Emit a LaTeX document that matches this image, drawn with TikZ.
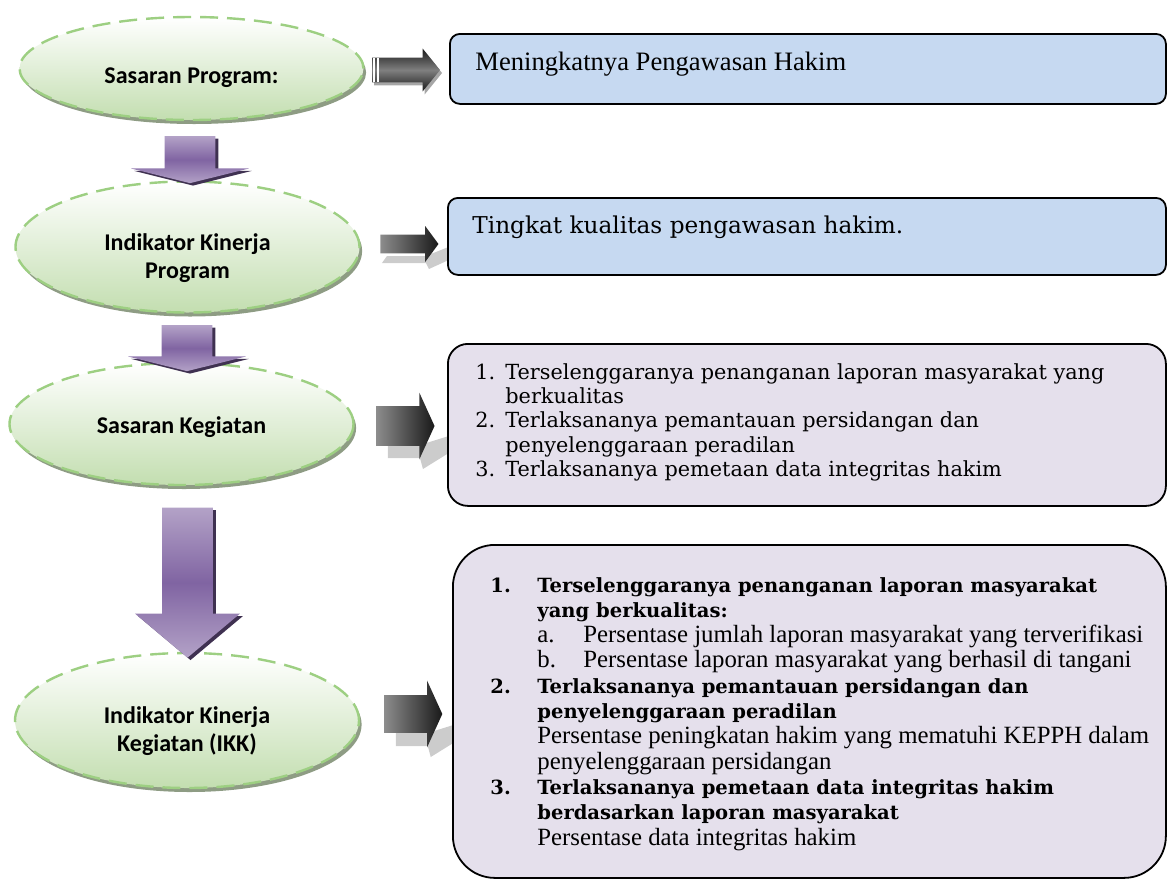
\documentclass[tikz,border=0pt]{standalone}
\usepackage{fontspec}
\usepackage{xcolor}
\usetikzlibrary{
    shapes.geometric,
    shapes.arrows,
    shadows,
    backgrounds,
    calc,
}
\newfontfamily\labelfont{Carlito}
\newfontfamily\bookmanfont{DejaVu Serif}
\newfontfamily\palatinofont{Liberation Serif}
\newcommand{\boldbk}[1]{{\bookmanfont\fontsize{9.78pt}{12.65pt}\selectfont\bfseries #1}}
\definecolor{goalgreen}{HTML}{C3DEB0}
\definecolor{goalborder}{HTML}{9DCF82}
\definecolor{goalshadow}{HTML}{8E9C84}
\definecolor{arrowlight}{HTML}{B3A2C7}
\definecolor{arrowdark}{HTML}{8064A2}
\definecolor{arrowshadow}{HTML}{3F3151}
\definecolor{boxblue}{HTML}{C6D9F1}
\definecolor{boxlilac}{HTML}{E5E0EC}
\tikzset{
    goalnode/.style={
            ellipse,
            draw=goalborder,
            line width=1.2pt,
            dash pattern=on 9pt off 4.5pt,
            top color=white,
            bottom color=goalgreen,
            drop shadow={
                    shadow xshift=1.3pt,
                    shadow yshift=-2pt,
                    fill=goalshadow,
                    opacity=1,
                },
            minimum width=172pt,
        }
}
\tikzset{
    goallabel/.style={
            inner sep=0pt,
            align=center,
            font=\labelfont\bfseries\fontsize{12pt}{14pt}\selectfont,
        }
}
\tikzset{
    downarrow/.style={
            single arrow,
            rotate=-90,
            draw=none,
            inner xsep=0pt,
            inner ysep=12.5pt,
            single arrow head extend=16.75pt,
            single arrow tip angle=152,
            top color=arrowlight,
            bottom color=arrowlight,
            middle color=arrowdark,
            drop shadow={
                    shadow xshift=1.5pt,
                    shadow yshift=-1.2pt,
                    fill=arrowshadow,
                    opacity=1,
                },
        }
}
\tikzset{
    rightarrow/.style={
            single arrow,
            draw=none,
            inner xsep=0pt,
            left color=black!45,
            right color=black!90,
        }
}
\tikzset{
    reflection/.style={
            fill=black!20,
        }
}
\tikzset{
    stripe/.style={
            draw=white,
            line width=0.8pt,
        }
}
\tikzset{
    textbox/.style={
            draw=black,
            line width=0.9pt,
            anchor=north west,
            inner sep=0pt,
        }
}
\tikzset{
    boxtext/.style={
            inner sep=0pt,
            anchor=base west,
        }
}

\begin{document}
\begin{tikzpicture}[x=0.5pt, y=-0.5pt]
    \useasboundingbox (0,0) rectangle (1167,879);

    % goals
    \node[goalnode, minimum height=51.5pt] (E1) at (191.5,68.5) {};
    \node[goalnode, minimum height=65.5pt] (E2) at (187.5,247) {};
    \node[goalnode, minimum height=61pt] (E3) at (181.5,424) {};
    \node[goalnode, minimum height=67.5pt] (E4) at (187,720.5) {};

    \node[goallabel, anchor=base] (E1-t) at ([yshift=-7.25pt]E1.center) {Sasaran Program:};
    \node[goallabel] (E2-t) at ([yshift=-5.5pt]E2.center) {Indikator Kinerja\\Program};
    \node[goallabel, anchor=base] (E3-t) at ([yshift=-4.5pt]E3.center) {Sasaran Kegiatan};
    \node[goallabel] (E4-t) at ([yshift=-5.25pt]E4.center) {Indikator Kinerja\\Kegiatan (IKK)};

    % goal -> goal
    \node[downarrow, minimum height=23.5pt] (A1) at (190,156.5) {};
    \node[downarrow, minimum height=23pt] (A2) at (187,345) {};
    \node[
        downarrow,
        minimum height=75pt,
        single arrow head extend=13.5pt,
        single arrow tip angle=100,
    ] (A3) at (187.5,572) {};

    % goal -> box
    \node[
        rightarrow,
        minimum height=34pt,
        inner ysep=6pt,
        single arrow head extend=4.5pt,
        single arrow tip angle=102,
        top color=black!90,
        bottom color=black!90,
        middle color=black!50,
        drop shadow={shadow xshift=1pt, shadow yshift=-1.5pt, fill=black!35, opacity=1},
    ] (R1) at (401,70) {};
    \foreach \s in {2.5,6.5} \draw[stripe] ([shift={(\s,-12)}]R1.tail) -- ([shift={(\s,12)}]R1.tail);
    \node[
        rightarrow,
        minimum height=29pt,
        inner ysep=4.5pt,
        single arrow head extend=4.25pt,
        single arrow tip angle=107,
    ] (R2) at (406,244) {};
    \node[
        rightarrow,
        minimum height=29pt,
        inner ysep=9.75pt,
        single arrow head extend=6.75pt,
        single arrow tip angle=131,
    ] (R3) at (401,426) {};
    \node[
        rightarrow,
        minimum height=29pt,
        inner ysep=9.25pt,
        single arrow head extend=7.25pt,
        single arrow tip angle=131,
    ] (R4) at (409,714) {};

    % reflections
    \begin{scope}[on background layer]
        \fill[reflection] ([shift={(-57,19)}]R2.tip) -- ([shift={(-52,12)}]R2.tip) -- ([shift={(-13,12)}]R2.tip)
            -- ([shift={(12,2)}]R2.tip) -- ([shift={(12,15)}]R2.tip) -- ([shift={(-10,25)}]R2.tip) -- ([shift={(-13,19)}]R2.tip) -- cycle;
        \foreach \r in {R3,R4} {
                \fill[reflection] ([shift={(-47,32)}]\r.tip) -- ([shift={(-47,19)}]\r.tip) -- ([shift={(-15,19)}]\r.tip)
                    -- ([shift={(17,9)}]\r.tip) -- ([shift={(17,25)}]\r.tip) -- ([shift={(-12,43)}]\r.tip) -- ([shift={(-15,32)}]\r.tip) -- cycle;
            }
    \end{scope}

    % boxes
    \node[
        textbox,
        fill=boxblue,
        rounded corners=5pt,
        minimum width=358pt,
        minimum height=35pt,
    ] (B1) at (449,33) {};
    \node[
        boxtext,
        font=\palatinofont\fontsize{13.3pt}{15pt}\selectfont,
    ] (B1-t) at (475,70) {Meningkatnya Pengawasan Hakim};

    \node[
        textbox,
        fill=boxblue,
        rounded corners=5pt,
        minimum width=359pt,
        minimum height=38.5pt,
    ] (B2) at (447,197) {};
    \node[
        boxtext,
        font=\bookmanfont\fontsize{11.6pt}{14pt}\selectfont,
    ] (B2-t) at (472,233) {Tingkat kualitas pengawasan hakim.};

    \node[
        textbox,
        fill=boxlilac,
        rounded corners=10pt,
        minimum width=359pt,
        minimum height=81pt,
    ] (B3) at (447,343) {};
    \node[
        boxtext,
        font=\bookmanfont\fontsize{10.4pt}{12.2pt}\selectfont,
    ] (B3-t) at (475,379) {%
        \begin{tabular}[t]{@{}l@{}l@{}}
            \makebox[15pt][l]{1.} & Terselenggaranya penanganan laporan masyarakat yang \\
                                  & berkualitas                                         \\
            \makebox[15pt][l]{2.} & Terlaksananya pemantauan persidangan dan            \\
                                  & penyelenggaraan peradilan                           \\
            \makebox[15pt][l]{3.} & Terlaksananya pemetaan data integritas hakim
        \end{tabular}};

    \node[
        textbox,
        fill=boxlilac,
        rounded corners=21pt,
        minimum width=356.5pt,
        minimum height=166.5pt,
    ] (B4) at (452,544) {};
    \node[
        boxtext,
        font=\palatinofont\fontsize{12.4pt}{12.65pt}\selectfont,
    ] (B4-t) at (490,592) {%
        \begin{tabular}[t]{@{}l@{}l@{}}
            \makebox[23.5pt][l]{\boldbk{1.}} & \boldbk{Terselenggaranya penanganan laporan masyarakat}                 \\
                                             & \boldbk{yang berkualitas:}                                            \\
                                             & \makebox[23pt][l]{a.}Persentase jumlah laporan masyarakat yang terverifikasi \\
                                             & \makebox[23pt][l]{b.}Persentase laporan masyarakat yang berhasil di tangani  \\
            \makebox[23.5pt][l]{\boldbk{2.}} & \boldbk{Terlaksananya pemantauan persidangan dan}                      \\
                                             & \boldbk{penyelenggaraan peradilan}                                     \\
                                             & Persentase peningkatan hakim yang mematuhi KEPPH dalam                \\
                                             & penyelenggaraan persidangan                                           \\
            \makebox[23.5pt][l]{\boldbk{3.}} & \boldbk{Terlaksananya pemetaan data integritas hakim}                  \\
                                             & \boldbk{berdasarkan laporan masyarakat}                                \\
                                             & Persentase data integritas hakim
        \end{tabular}};
\end{tikzpicture}
\end{document}
